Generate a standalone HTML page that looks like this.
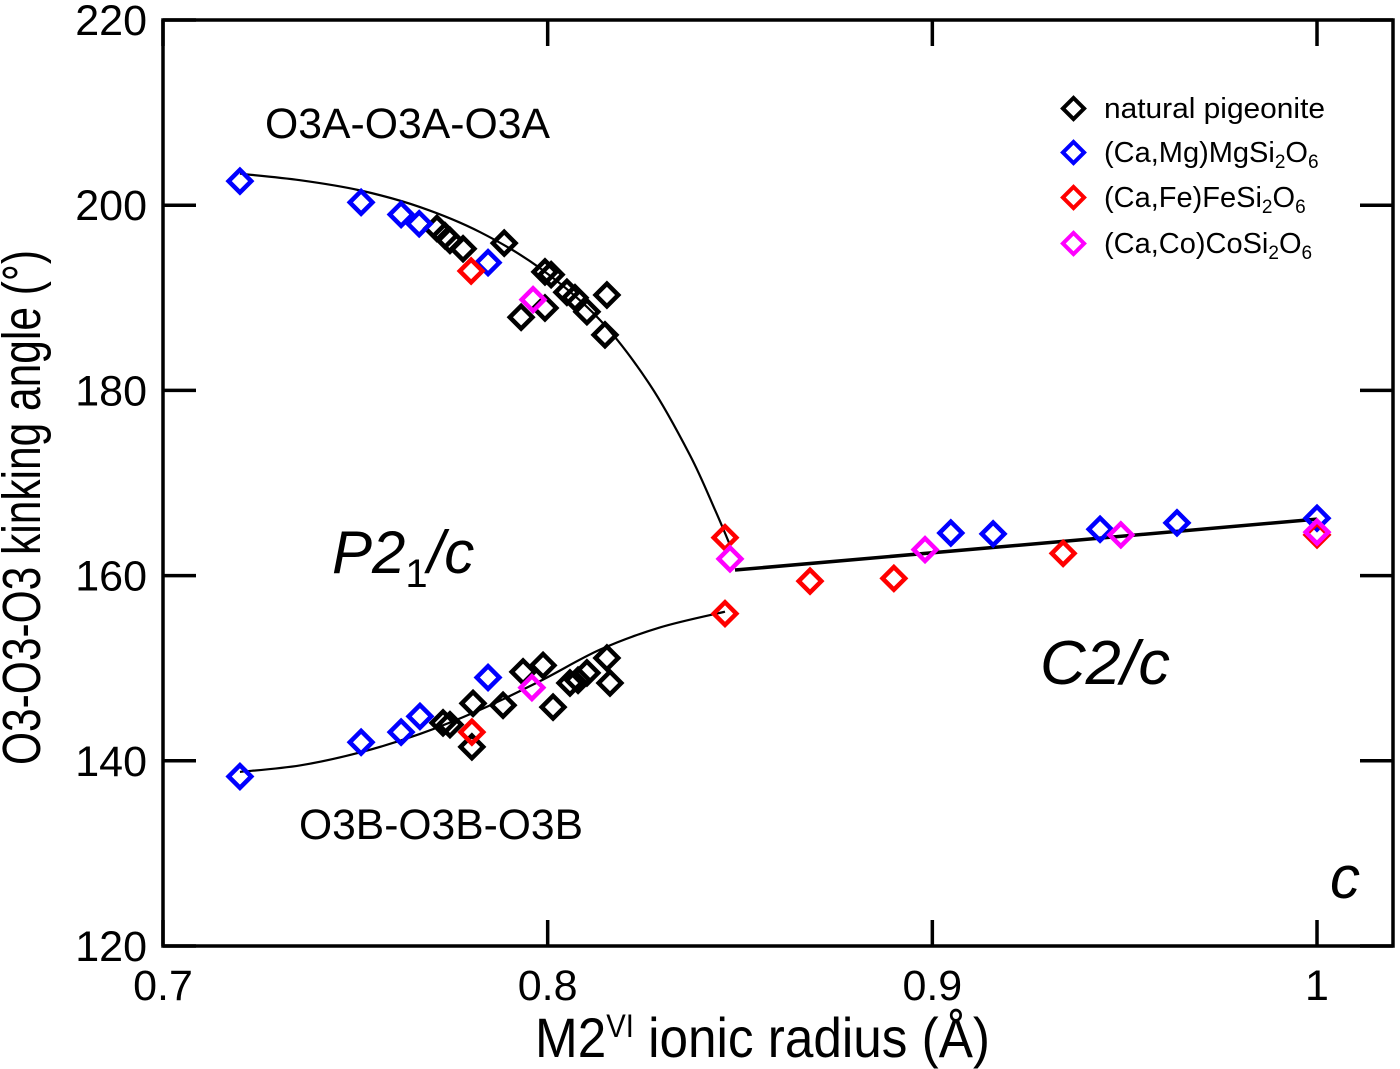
<!DOCTYPE html>
<html><head><meta charset="utf-8"><style>
body{margin:0;background:#fff}
svg{display:block;font-family:"Liberation Sans",Arial,sans-serif}
</style></head><body>
<svg id="chart" width="1400" height="1069" viewBox="0 0 1400 1069">
<rect x="163" y="20" width="1230" height="926" fill="none" stroke="#000" stroke-width="3.5"/>
<g id="axes"></g>
<g id="curves"></g>
<g id="marks"></g>
<text x="265" y="138" font-size="43" textLength="285" lengthAdjust="spacingAndGlyphs">O3A-O3A-O3A</text>
<text x="299" y="839" font-size="43" textLength="284" lengthAdjust="spacingAndGlyphs">O3B-O3B-O3B</text>
<text x="332" y="573" font-size="60" font-style="italic">P2<tspan font-style="normal" font-size="40" dy="14">1</tspan><tspan dy="-14">/c</tspan></text>
<text x="1040" y="684" font-size="62" font-style="italic" textLength="130" lengthAdjust="spacingAndGlyphs">C2/c</text>
<text x="1330" y="898" font-size="60" font-style="italic">c</text>
<text x="535" y="1057" font-size="56" textLength="455" lengthAdjust="spacingAndGlyphs">M2<tspan font-size="32" dy="-20">VI</tspan><tspan dy="20"> ionic radius (Å)</tspan></text>
<text transform="translate(40,765) rotate(-90)" font-size="54" textLength="515" lengthAdjust="spacingAndGlyphs">O3-O3-O3 kinking angle (°)</text>
<g font-size="29">
<g><rect x="1066" y="101" width="15" height="15" transform="rotate(45 1073.5 108.5)" fill="none" stroke="#000" stroke-width="4"/><text x="1104" y="118" textLength="221" lengthAdjust="spacingAndGlyphs">natural pigeonite</text></g>
<g><rect x="1066" y="145" width="15" height="15" transform="rotate(45 1073.5 152.5)" fill="none" stroke="#0000ff" stroke-width="4"/><text x="1104" y="162">(Ca,Mg)MgSi<tspan font-size="19" dy="6">2</tspan><tspan dy="-6">O</tspan><tspan font-size="19" dy="6">6</tspan></text></g>
<g><rect x="1066" y="190" width="15" height="15" transform="rotate(45 1073.5 197.5)" fill="none" stroke="#ff0000" stroke-width="4"/><text x="1104" y="207">(Ca,Fe)FeSi<tspan font-size="19" dy="6">2</tspan><tspan dy="-6">O</tspan><tspan font-size="19" dy="6">6</tspan></text></g>
<g><rect x="1066" y="236" width="15" height="15" transform="rotate(45 1073.5 243.5)" fill="none" stroke="#ff00ff" stroke-width="4"/><text x="1104" y="253">(Ca,Co)CoSi<tspan font-size="19" dy="6">2</tspan><tspan dy="-6">O</tspan><tspan font-size="19" dy="6">6</tspan></text></g>
</g>
</svg>
<script>
const xTicks=[0.7,0.8,0.9,1.0];
const xTickLabels=["0.7","0.8","0.9","1"];
const yTicks=[120,140,160,180,200,220];
const naturalX=[0.7712,0.7733,0.7746,0.7780,0.7887,0.7993,0.8009,0.8050,0.8071,0.8102,0.8154,0.7931,0.7993,0.8149,0.7728,0.7746,0.7806,0.7803,0.7884,0.7936,0.7988,0.8014,0.8058,0.8079,0.8102,0.8154,0.8162];
const naturalY=[197.5,196.7,196.2,195.3,195.9,192.8,192.5,190.6,190.0,188.5,190.3,187.9,188.9,186.0,144.1,143.9,146.2,141.5,146.0,149.6,150.3,145.8,148.4,148.7,149.5,151.1,148.4];
const mgX=[0.720,0.7515,0.7619,0.7666,0.7845,0.720,0.7515,0.7619,0.7668,0.7845,0.9048,0.9158,0.9436,0.9636,1.0];
const mgY=[202.6,200.3,199.0,198.0,193.8,138.3,142.0,143.1,144.8,149.0,164.6,164.5,165.0,165.7,166.2];
const feX=[0.7801,0.8461,0.7803,0.8461,0.8682,0.8900,0.934,1.0];
const feY=[192.9,164.1,143.1,155.9,159.4,159.7,162.4,164.4];
const coX=[0.7962,0.8474,0.7959,0.8981,0.949,1.0];
const coY=[189.8,161.8,147.9,162.8,164.4,164.7];
const upperCurveX=[0.72,0.7356,0.7512,0.7668,0.7824,0.798,0.8136,0.8266,0.837,0.8435,0.8474];
const upperCurveY=[203.4,202.7,201.6,199.8,197.1,193.2,187.6,180.6,173.0,167.1,163.3];
const lowerCurveX=[0.72,0.7356,0.7512,0.7668,0.7824,0.798,0.8136,0.8292,0.8461];
const lowerCurveY=[138.8,139.5,140.9,142.9,145.5,148.6,152.0,154.4,156.1];
const c2cLineX=[0.8487,1.0];
const c2cLineY=[160.6,166.1];

const NS="http://www.w3.org/2000/svg";
const X=v=>163+(v-0.7)*3846.7;
const Y=v=>20+(220-v)*9.26;
function mk(tag,attrs,parent){const e=document.createElementNS(NS,tag);for(const k in attrs)e.setAttribute(k,attrs[k]);parent.appendChild(e);return e;}
const axes=document.getElementById('axes');
xTicks.forEach((t,i)=>{
  const x=X(t);
  const a=mk('line',{x1:x,x2:x,y1:946,y2:920,stroke:'#000','stroke-width':3.5},axes);
  
  
  const b=mk('line',{x1:x,x2:x,y1:20,y2:46,stroke:'#000','stroke-width':3.5},axes);
  
  
  const l=mk('text',{x:x,y:1000,'font-size':43,'text-anchor':'middle'},axes);
  l.textContent=xTickLabels[i];
  
  
});
yTicks.forEach(t=>{
  const y=Y(t);
  const a=mk('line',{x1:163,x2:196,y1:y,y2:y,stroke:'#000','stroke-width':3.5},axes);
  
  
  const b=mk('line',{x1:1360,x2:1393,y1:y,y2:y,stroke:'#000','stroke-width':3.5},axes);
  
  
  const l=mk('text',{x:147,y:y+15,'font-size':43,'text-anchor':'end'},axes);
  l.textContent=String(t);
  
  
});
const curves=document.getElementById('curves');
function smooth(xs,ys){
  const p=xs.map((v,i)=>[X(v),Y(ys[i])]);
  let d='M'+p[0][0]+','+p[0][1];
  for(let i=0;i<p.length-1;i++){
    const p0=p[Math.max(0,i-1)],p1=p[i],p2=p[i+1],p3=p[Math.min(p.length-1,i+2)];
    const c1=[p1[0]+(p2[0]-p0[0])/6,p1[1]+(p2[1]-p0[1])/6];
    const c2=[p2[0]-(p3[0]-p1[0])/6,p2[1]-(p3[1]-p1[1])/6];
    d+=` C${c1[0]},${c1[1]} ${c2[0]},${c2[1]} ${p2[0]},${p2[1]}`;
  }
  return d;
}
const u=mk('path',{d:smooth(upperCurveX,upperCurveY),fill:'none',stroke:'#000','stroke-width':2.2},curves);


const lo=mk('path',{d:smooth(lowerCurveX,lowerCurveY),fill:'none',stroke:'#000','stroke-width':2.2},curves);


const c=mk('path',{d:smooth(c2cLineX,c2cLineY),fill:'none',stroke:'#000','stroke-width':3.5},curves);


const marks=document.getElementById('marks');
function series(xs,ys,color,name){
  xs.forEach((v,i)=>{
    const cx=X(v),cy=Y(ys[i]);
    const r=mk('rect',{x:cx-8,y:cy-8,width:16,height:16,transform:`rotate(45 ${cx} ${cy})`,fill:'none',stroke:color,'stroke-width':4.5},marks);
    
    
  });
}
series(naturalX,naturalY,'#000','point-natural-pigeonite');
series(mgX,mgY,'#0000ff','point-ca-mg');
series(feX,feY,'#ff0000','point-ca-fe');
series(coX,coY,'#ff00ff','point-ca-co');
</script>
</body></html>
